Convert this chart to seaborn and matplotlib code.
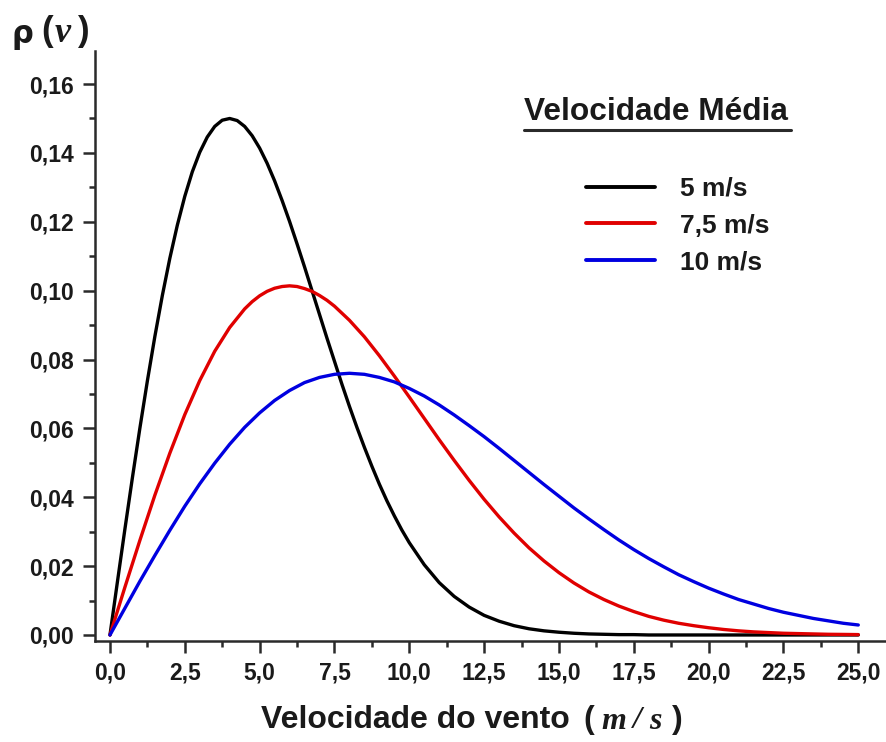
import numpy as np
import pandas as pd
import matplotlib
matplotlib.use("Agg")
import matplotlib.pyplot as plt
import seaborn as sns
from matplotlib.ticker import MultipleLocator, FuncFormatter
from matplotlib.lines import Line2D

# ---- data ----
speed_5 = [0.0, 0.25, 0.5, 0.75, 1.0, 1.25, 1.5, 1.75, 2.0, 2.25, 2.5, 2.75, 3.0, 3.25,
           3.5, 3.75, 4.0, 4.25, 4.5, 4.75, 5.0, 5.25, 5.5, 5.75, 6.0, 6.25, 6.5, 6.75,
           7.0, 7.25, 7.5, 7.75, 8.0, 8.25, 8.5, 8.75, 9.0, 9.25, 9.5, 9.75, 10.0, 10.5,
           11.0, 11.5, 12.0, 12.5, 13.0, 13.5, 14.0, 14.5, 15.0, 15.5, 16.0, 16.5, 17.0,
           17.5, 18.0, 19.0, 20.0, 21.0, 22.0, 23.0, 24.0, 25.0]
p_5 = [0.0, 0.0155, 0.0308, 0.0457, 0.0601, 0.0738, 0.0867, 0.0986, 0.1094, 0.1190,
       0.1274, 0.1345, 0.1402, 0.1446, 0.1477, 0.1495, 0.1500, 0.1494, 0.1477, 0.1450,
       0.1414, 0.1370, 0.1319, 0.1262, 0.1201, 0.1136, 0.1069, 0.1000, 0.0931, 0.0862,
       0.0795, 0.0728, 0.0664, 0.0603, 0.0545, 0.0490, 0.0438, 0.0390, 0.0346, 0.0305,
       0.0268, 0.0204, 0.0152, 0.0112, 0.0081, 0.0057, 0.0040, 0.0027, 0.0018, 0.0012,
       0.0008, 0.0005, 0.0003, 0.0002, 0.0001, 0.0001, 0.0, 0.0, 0.0, 0.0, 0.0, 0.0,
       0.0, 0.0]

speed_75 = [0.0, 0.5, 1.0, 1.5, 2.0, 2.5, 3.0, 3.5, 4.0, 4.5, 4.75, 5.0, 5.25, 5.5, 5.75,
            6.0, 6.25, 6.5, 6.75, 7.0, 7.25, 7.5, 8.0, 8.5, 9.0, 9.5, 10.0, 10.5, 11.0,
            11.5, 12.0, 12.5, 13.0, 13.5, 14.0, 14.5, 15.0, 15.5, 16.0, 16.5, 17.0, 17.5,
            18.0, 18.5, 19.0, 19.5, 20.0, 20.5, 21.0, 21.5, 22.0, 22.5, 23.0, 23.5, 24.0,
            24.5, 25.0]
p_75 = [0.0, 0.0139, 0.0275, 0.0406, 0.0528, 0.0640, 0.0739, 0.0824, 0.0893, 0.0947,
        0.0968, 0.0985, 0.0998, 0.1007, 0.1012, 0.1014, 0.1012, 0.1006, 0.0998, 0.0986,
        0.0972, 0.0955, 0.0914, 0.0866, 0.0811, 0.0752, 0.0691, 0.0629, 0.0567, 0.0507,
        0.0449, 0.0394, 0.0343, 0.0296, 0.0253, 0.0215, 0.0181, 0.0151, 0.0125, 0.0103,
        0.0084, 0.0068, 0.0054, 0.0043, 0.0034, 0.0027, 0.0021, 0.0016, 0.0012, 0.0009,
        0.0007, 0.0005, 0.0004, 0.0003, 0.0002, 0.00016, 0.00011]

speed_10 = [0.0, 0.5, 1.0, 1.5, 2.0, 2.5, 3.0, 3.5, 4.0, 4.5, 5.0, 5.5, 6.0, 6.5, 7.0, 7.5,
            8.0, 8.5, 9.0, 9.5, 10.0, 10.5, 11.0, 11.5, 12.0, 12.5, 13.0, 13.5, 14.0, 14.5,
            15.0, 15.5, 16.0, 16.5, 17.0, 17.5, 18.0, 18.5, 19.0, 19.5, 20.0, 20.5, 21.0,
            21.5, 22.0, 22.5, 23.0, 23.5, 24.0, 24.5, 25.0]
p_10 = [0.0, 0.0078, 0.0156, 0.0231, 0.0304, 0.0374, 0.0439, 0.0499, 0.0554, 0.0603,
        0.0645, 0.0681, 0.0710, 0.0733, 0.0748, 0.0757, 0.0760, 0.0757, 0.0748, 0.0735,
        0.0716, 0.0694, 0.0668, 0.0639, 0.0608, 0.0576, 0.0542, 0.0507, 0.0472, 0.0437,
        0.0403, 0.0369, 0.0337, 0.0306, 0.0276, 0.0248, 0.0222, 0.0198, 0.0175, 0.0155,
        0.0136, 0.0119, 0.0103, 0.0090, 0.0077, 0.0066, 0.0057, 0.0048, 0.0041, 0.0034,
        0.0029]

series_labels = ["5 m/s", "7,5 m/s", "10 m/s"]
series_colors = ["#000000", "#e00000", "#0000e0"]
legend_title = "Velocidade Média"
x_label = "Velocidade do vento"
x_unit = ["(", "m", "/", "s", ")"]
y_symbol = "ρ"
y_arg = ["(", "v", ")"]

df = pd.concat([
    pd.DataFrame({"v": xs, "p": vals, "serie": lab})
    for xs, vals, lab in zip([speed_5, speed_75, speed_10], [p_5, p_75, p_10], series_labels)
])

sns.set_style("ticks")
plt.rcParams["font.family"] = ["Liberation Sans", "DejaVu Sans"]

fig = plt.figure(figsize=(8.87, 7.42), dpi=100)
ax = fig.add_axes([95 / 887, 1 - 641 / 742, 1 - 95 / 887 - 0.002, (641 - 51) / 742])

sns.lineplot(data=df, x="v", y="p", hue="serie", hue_order=series_labels,
             palette=series_colors, linewidth=2.4, ax=ax, legend=False, sort=True)

ax.set_xlim(-0.5, 25.9)
ax.set_ylim(-0.00175, 0.1696)
ax.xaxis.set_major_locator(MultipleLocator(2.5))
ax.xaxis.set_minor_locator(MultipleLocator(1.25))
ax.yaxis.set_major_locator(MultipleLocator(0.02))
ax.yaxis.set_minor_locator(MultipleLocator(0.01))
ax.xaxis.set_major_formatter(FuncFormatter(lambda v, p: f"{v:.1f}".replace(".", ",")))
ax.yaxis.set_major_formatter(FuncFormatter(lambda v, p: f"{v:.2f}".replace(".", ",")))

for s in ["top", "right"]:
    ax.spines[s].set_visible(False)
for s in ["left", "bottom"]:
    ax.spines[s].set_linewidth(1.8)
    ax.spines[s].set_color("#2a2a2a")

ax.tick_params(which="major", direction="out", length=8.5, width=1.8, color="#2a2a2a",
               labelsize=16.5, labelcolor="#1a1a1a")
ax.tick_params(axis="y", which="major", pad=7)
ax.tick_params(axis="x", which="major", pad=6)
ax.tick_params(which="minor", direction="out", length=4.5, width=1.8, color="#2a2a2a")
for lab in ax.get_xticklabels() + ax.get_yticklabels():
    lab.set_fontweight("bold")

ax.set_xlabel("")
ax.set_ylabel("")

# x axis label
yc = 1 - 720 / 742
fig.text(261 / 887, yc, x_label, fontsize=23, fontweight="bold", color="#1a1a1a",
         ha="left", va="center")
fig.text(583 / 887, yc, x_unit[0], fontsize=23, fontweight="bold", color="#1a1a1a",
         ha="left", va="center")
fig.text(601 / 887, yc - 0.002, x_unit[1], fontsize=23, fontweight="bold", style="italic",
         family="Liberation Serif", color="#1a1a1a", ha="left", va="center")
fig.text(633 / 887, yc, x_unit[2], fontsize=23, fontweight="bold", style="italic",
         family="Liberation Serif", color="#1a1a1a", ha="left", va="center")
fig.text(649 / 887, yc - 0.002, x_unit[3], fontsize=23, fontweight="bold", style="italic",
         family="Liberation Serif", color="#1a1a1a", ha="left", va="center")
fig.text(672 / 887, yc, x_unit[4], fontsize=23, fontweight="bold", color="#1a1a1a",
         ha="left", va="center")

# y axis label
fig.text(12 / 887, 1 - 36 / 742, y_symbol, fontsize=22, fontweight="bold",
         family="DejaVu Sans", color="#1a1a1a", ha="left", va="center")
fig.text(41 / 887, 1 - 31 / 742, y_arg[0], fontsize=25, fontweight="bold",
         color="#1a1a1a", ha="left", va="center")
fig.text(55 / 887, 1 - 34 / 742, y_arg[1], fontsize=26, fontweight="bold", style="italic",
         family="Liberation Serif", color="#1a1a1a", ha="left", va="center")
fig.text(78 / 887, 1 - 31 / 742, y_arg[2], fontsize=25, fontweight="bold",
         color="#1a1a1a", ha="left", va="center")

# legend
handles = [Line2D([], [], color=c, lw=2.8) for c in series_colors]
leg = ax.legend(handles, series_labels, loc="upper left",
                bbox_to_anchor=(586 / 887, 1 - 177 / 742), bbox_transform=fig.transFigure,
                frameon=False, borderpad=0, borderaxespad=0, handlelength=2.6,
                handletextpad=0.95, labelspacing=0.48,
                prop={"size": 19, "weight": "bold"})
for t in leg.get_texts():
    t.set_color("#1a1a1a")
fig.text(524 / 887, 1 - 112 / 742, legend_title, fontsize=22.8, fontweight="bold",
         color="#1a1a1a", ha="left", va="center")
fig.add_artist(Line2D([524 / 887, 791 / 887], [1 - 130 / 742, 1 - 130 / 742],
                      transform=fig.transFigure, color="#2a2a2a", lw=2.2))

fig.savefig("out.png", dpi=100)
